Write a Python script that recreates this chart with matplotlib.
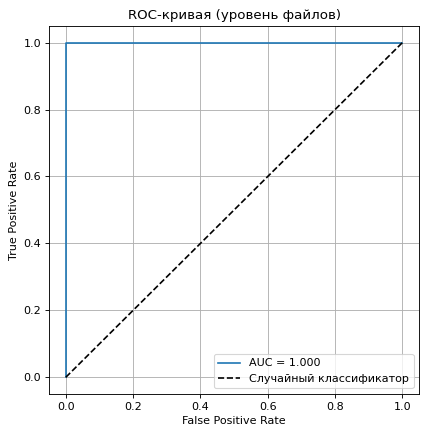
import matplotlib
matplotlib.use('Agg')
import matplotlib.pyplot as plt

# ROC points (file level)
fpr = [0.0, 0.0, 1.0]
tpr = [0.0, 1.0, 1.0]
auc_value = 1.000
diag_x = [0, 1]
diag_y = [0, 1]

fig = plt.figure(figsize=(5.325, 5.4), dpi=80)
plt.plot(fpr, tpr, label=f'AUC = {auc_value:.3f}')
plt.plot(diag_x, diag_y, 'k--', label='Случайный классификатор')
plt.xlabel('False Positive Rate')
plt.ylabel('True Positive Rate')
plt.title('ROC-кривая (уровень файлов)')
plt.legend(loc='lower right')
plt.grid(True)
plt.subplots_adjust(left=0.115, right=0.984, bottom=0.088, top=0.94)
plt.savefig('out.png', dpi=80)
